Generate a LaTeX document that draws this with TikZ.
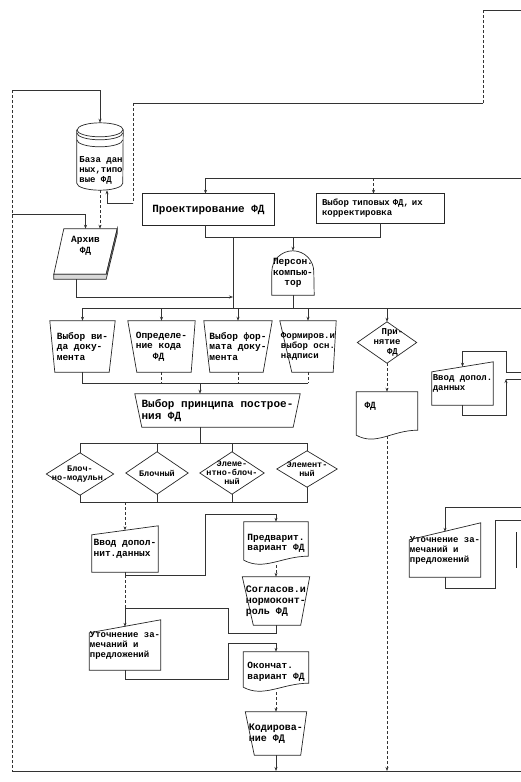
\documentclass[tikz,border=0pt]{standalone}
\usepackage{fontspec}
\newfontfamily\typer{Liberation Mono}
\usetikzlibrary{arrows.meta}

\begin{document}
\begin{tikzpicture}[
  x=1pt, y=1pt,
  outline/.style={draw=black!85, line width=0.7pt},
  wire/.style={draw=black!80, line width=0.6pt},
  dwire/.style={wire, densely dashed},
  >={Stealth[length=4pt, width=3pt]},
  box/.style 2 args={inner sep=0pt, minimum width=#1pt, minimum height=#2pt,
    align=left, font=\typer\bfseries\fontsize{9.5}{10.5}\selectfont},
  small/.style={font=\typer\bfseries\fontsize{9}{10}\selectfont},
  tiny/.style={font=\typer\bfseries\fontsize{8.5}{9}\selectfont},
  big/.style={font=\typer\bfseries\fontsize{11}{12}\selectfont}
]
  \useasboundingbox (0,0) rectangle (521,-782);

  % Database and archive.
  \node[box={46}{67}] (db) at (100,-156.5) {};
  \node[box={46}{30}, small] (dbtxt) at (101,-170) {База дан\\ных,типо\\вые ФД};
  \node[box={63}{50}, align=center] (arch) at (85.5,-254) {Архив\\ФД\\[8pt]};

  % Design stage.
  \node[box={131}{31}, big] (proj) at (208.5,-209.5) {Проектирование ФД};
  \node[box={127}{29}, small, text width=117pt] (sel) at (380.5,-208.5)
    {Выбор типовых ФД, их\\корректировка};
  \node[box={42}{44}, align=center] (pc) at (293,-273) {Персон.\\компью-\\тор};

  % Manual operations.
  \node[box={65}{51}] (t1) at (82.5,-346.5) {Выбор ви-\\да доку-\\мента};
  \node[box={67}{51}] (t2) at (161.5,-346.5) {Определе-\\ние кода\\\ \ \ ФД};
  \node[box={68}{51}] (t3) at (238,-346.5) {Выбор фор-\\мата доку-\\мента};
  \node[box={56}{51}, small] (t4) at (308,-346.5) {Формиров.и\\выбор осн.\\надписи};
  \node[box={165}{33}, big] (prin) at (217.5,-410.5)
    {Выбор принципа построе-\\ния ФД};

  % Construction principle.
  \node[box={67}{42}, tiny, align=center] (d1) at (80,-474) {Блоч-\\но-модульн.};
  \node[box={62}{42}, tiny, align=center] (d2) at (157,-473) {Блочный};
  \node[box={64}{42}, tiny, align=center] (d3) at (232,-473) {Элеме-\\нтно-блоч-\\ный};
  \node[box={60}{36}, tiny, align=center] (d4) at (307,-469) {Элемент-\\ный};

  % Main column.
  \node[box={66}{46}] (vvod1) at (125,-549) {Ввод допол-\\нит.данных};
  \node[box={64}{43}] (pre) at (276,-543.5) {Предварит.\\вариант ФД};
  \node[box={67}{48}, font=\typer\bfseries\fontsize{10}{11}\selectfont] (cons) at (276,-601)
    {Согласов.и\\нормоконт-\\роль ФД};
  \node[box={71}{50}, small] (utoch1) at (125,-645) {Уточнение за-\\мечаний и\\предложений};
  \node[box={65}{40}] (fin) at (276,-672) {Окончат.\\вариант ФД};
  \node[box={61}{43}, font=\typer\bfseries\fontsize{10}{11}\selectfont] (kod) at (276,-733.5)
    {Кодирова-\\ние ФД};

  % Right column.
  \node[box={59}{41}, small, align=center] (acc) at (387,-342.5) {\ \ При-\\нятие\\\ \ ФД};
  \node[box={61}{48}, text width=45pt, text depth=22pt] (fdoc) at (387,-416) {ФД};
  \node[box={61}{43}, small] (vvod2) at (462.5,-383.5) {Ввод допол.\\данных};
  \node[box={71}{54}, small] (utoch2) at (445,-550) {Уточнение за-\\мечаний и\\предложений};

  % Outlines.
  \draw[outline] ([yshift=-7pt]db.north west) -- ([yshift=7pt]db.south west)
    arc[start angle=180, end angle=360, x radius=23pt, y radius=7pt]
    -- ([yshift=-7pt]db.north east)
    arc[start angle=0, end angle=180, x radius=23pt, y radius=7pt];
  \draw[outline] ([yshift=-7pt]db.north west)
    arc[start angle=180, end angle=360, x radius=23pt, y radius=7pt];
  \draw[outline] ([yshift=-10pt]db.north west)
    arc[start angle=180, end angle=360, x radius=23pt, y radius=7pt];
  \draw[outline] ([yshift=-17pt]db.north west)
    arc[start angle=180, end angle=360, x radius=23pt, y radius=7pt];

  \draw[outline] ([xshift=10pt]arch.north west) -- (arch.north east)
    -- ([xshift=-11pt,yshift=5pt]arch.south east) -- ([yshift=5pt]arch.south west) -- cycle;
  \draw[outline, fill=black!15] ([yshift=5pt]arch.south west) -- (arch.south west)
    -- ([xshift=-11pt]arch.south east) -- ([yshift=-5pt]arch.north east)
    -- (arch.north east) -- ([xshift=-11pt,yshift=5pt]arch.south east) -- cycle;

  \draw[outline] (proj.south west) rectangle (proj.north east);
  \draw[outline] (sel.south west) rectangle (sel.north east);
  \draw[outline] (pc.south west) -- ([yshift=-21pt]pc.north west)
    arc[start angle=180, end angle=0, radius=21pt] -- (pc.south east) -- cycle;

  \draw[outline] (t1.north west) -- (t1.north east) -- ([xshift=-6pt]t1.south east)
    -- ([xshift=5pt]t1.south west) -- cycle;
  \draw[outline] (t2.north west) -- (t2.north east) -- ([xshift=-4pt]t2.south east)
    -- ([xshift=9pt]t2.south west) -- cycle;
  \draw[outline] (t3.north west) -- (t3.north east) -- ([xshift=-9pt]t3.south east)
    -- ([xshift=6pt]t3.south west) -- cycle;
  \draw[outline] (t4.north west) -- (t4.north east) -- ([xshift=-3pt]t4.south east)
    -- ([xshift=12pt]t4.south west) -- cycle;
  \draw[outline] (prin.north west) -- (prin.north east) -- ([xshift=-7pt]prin.south east)
    -- ([xshift=7pt]prin.south west) -- cycle;

  \draw[outline] (d1.north) -- (d1.east) -- (d1.south) -- (d1.west) -- cycle;
  \draw[outline] (d2.north) -- (d2.east) -- (d2.south) -- (d2.west) -- cycle;
  \draw[outline] (d3.north) -- (d3.east) -- (d3.south) -- (d3.west) -- cycle;
  \draw[outline] (d4.north) -- (d4.east) -- (d4.south) -- (d4.west) -- cycle;
  \draw[outline] (acc.north) -- (acc.east) -- (acc.south) -- (acc.west) -- cycle;

  \draw[outline] (vvod1.south west) -- ([yshift=-9pt]vvod1.north west)
    -- (vvod1.north east) -- (vvod1.south east) -- cycle;
  \draw[outline] (utoch1.south west) -- ([yshift=-13pt]utoch1.north west)
    -- (utoch1.north east) -- (utoch1.south east) -- cycle;
  \draw[outline] (vvod2.south west) -- ([yshift=-10pt]vvod2.north west)
    -- (vvod2.north east) -- (vvod2.south east) -- cycle;
  \draw[outline] (utoch2.south west) -- ([yshift=-17pt]utoch2.north west)
    -- (utoch2.north east) -- (utoch2.south east) -- cycle;

  \draw[outline] (pre.north west) -- (pre.north east) -- ([yshift=9pt]pre.south east)
    .. controls ([xshift=-26pt,yshift=9pt]pre.south east)
    and ([xshift=20pt,yshift=-6pt]pre.south west) .. ([yshift=5pt]pre.south west) -- cycle;
  \draw[outline] (fin.north west) -- (fin.north east) -- ([yshift=9pt]fin.south east)
    .. controls ([xshift=-26pt,yshift=9pt]fin.south east)
    and ([xshift=20pt,yshift=-6pt]fin.south west) .. ([yshift=5pt]fin.south west) -- cycle;
  \draw[outline] (fdoc.north west) -- (fdoc.north east) -- ([yshift=10pt]fdoc.south east)
    .. controls ([xshift=-26pt,yshift=10pt]fdoc.south east)
    and ([xshift=20pt,yshift=-6pt]fdoc.south west) .. ([yshift=5pt]fdoc.south west) -- cycle;

  \draw[outline] (cons.north west) -- (cons.north east) -- ([xshift=-9pt]cons.south east)
    -- ([xshift=11pt]cons.south west) -- cycle;
  \draw[outline] (kod.north west) -- (kod.north east) -- ([xshift=-6pt]kod.south east)
    -- ([xshift=9pt]kod.south west) -- cycle;

  % Cut-off box at the right edge.
  \draw[outline] (516,-532) -- (516,-568);

  % Junctions.
  \coordinate (tr) at (521,-10);
  \coordinate (tk) at (483,-10);
  \coordinate (tk2) at (483,-103);
  \coordinate (dbk) at (133,-103);
  \coordinate (dbk2) at (133,-203);
  \coordinate (lt) at (12,-90);
  \coordinate (la) at (12,-214);
  \coordinate (lb) at (12,-771);
  \coordinate (rb) at (521,-771);
  \coordinate (pb) at (521,-178);
  \coordinate (pj) at (293,-237);
  \coordinate (aj) at (233,-237);
  \coordinate (am) at (233,-297);
  \coordinate (bus) at (233,-308);
  \coordinate (busr) at (521,-308);
  \coordinate (mj) at (200,-383);
  \coordinate (pj2) at (200,-443);
  \coordinate (dj) at (125,-502);
  \coordinate (vj) at (205,-575);
  \coordinate (pk) at (205,-514);
  \coordinate (ck) at (228,-633);
  \coordinate (ck2) at (228,-608);
  \coordinate (uk) at (228,-679);
  \coordinate (uk2) at (228,-643);
  \coordinate (vr1) at (521,-372);
  \coordinate (vr2) at (506,-351);
  \coordinate (vr3) at (506,-415);
  \coordinate (vr4) at (506,-379);
  \coordinate (vr5) at (521,-379);
  \coordinate (ur1) at (521,-507);
  \coordinate (ur2) at (495,-588);
  \coordinate (ur3) at (495,-520);
  \coordinate (ur4) at (521,-520);

  % Frame lines.
  \draw[wire] (tr) -- (tk);
  \draw[dwire] (tk) -- (tk2);
  \draw[wire] (tk2) -- (dbk);
  \draw[dwire] (dbk) -- (dbk2);
  \draw[wire,->] (dbk2) -| ([xshift=7pt]db.south);
  \draw[dwire] (lt) -- (lb);
  \draw[wire] (lb) -- (rb);
  \draw[wire,->] (lt) -| (db.north);
  \draw[wire,->] (la) -| (arch.north);
  \draw[dwire,->] (db.south) -- (db.south |- arch.north);

  % Design stage.
  \draw[wire,->] (pb) -| ([xshift=-3pt]proj.north);
  \draw[dwire,->] ([xshift=-7pt]sel.north |- pb) -- ([xshift=-7pt]sel.north);
  \draw[wire] ([xshift=-3pt]proj.south) |- (pj);
  \draw[wire] (sel.south) |- (pj);
  \draw[wire,->] (pj) -- (pc.north);
  \draw[wire] (aj) -- (bus);
  \draw[wire,->] ([xshift=-9pt]arch.south) |- (am);
  \draw[wire] (pc.south) -- (pc.south |- bus);

  % Manual operations.
  \draw[wire] (t1.north |- bus) -- (busr);
  \draw[wire,->] (t1.north |- bus) -- (t1.north);
  \draw[wire,->] (t2.north |- bus) -- (t2.north);
  \draw[wire,->] (t3.north |- bus) -- (t3.north);
  \draw[wire,->] (t4.north |- bus) -- (t4.north);
  \draw[wire,->] (acc.north |- bus) -- (acc.north);
  \draw[wire] (t1.south) -- (t1.south |- mj) -- (t4.south |- mj);
  \draw[dwire] (t2.south) -- (t2.south |- mj);
  \draw[dwire] (t3.south) -- (t3.south |- mj);
  \draw[dwire] (t4.south) -- (t4.south |- mj);
  \draw[wire,->] (mj) -- (mj |- prin.north);

  % Construction principle.
  \draw[wire] (prin.south -| pj2) -- (pj2);
  \draw[wire] (d1.north |- pj2) -- (d4.north |- pj2);
  \draw[wire] (d1.north |- pj2) -- (d1.north);
  \draw[wire] (d2.north |- pj2) -- (d2.north);
  \draw[wire] (d3.north |- pj2) -- (d3.north);
  \draw[wire] (d4.north |- pj2) -- (d4.north);
  \draw[wire] (d1.south) -- (d1.south |- dj) -- (d4.south |- dj) -- (d4.south);
  \draw[wire] (d2.south) -- (d2.south |- dj);
  \draw[wire] (d3.south) -- (d3.south |- dj);
  \draw[dwire,->] (dj) -- ([yshift=-4.5pt]vvod1.north);

  % Main column.
  \draw[wire,->] (vvod1.south) |- (vj) -- (pk) -| (pre.north);
  \draw[dwire] (vvod1.south |- vj) -- (vvod1.south |- ck2);
  \draw[dwire,->] (pre.south) -- (cons.north);
  \draw[wire,->] (cons.south) |- (ck) -- (ck2) -| ([yshift=-7pt]utoch1.north);
  \draw[wire,->] (utoch1.south) |- (uk) -- (uk2) -| (fin.north);
  \draw[dwire,->] (fin.south) -- (kod.north);
  \draw[wire,->] (kod.south) -- (kod.south |- lb);

  % Right column.
  \draw[dwire,->] (acc.south) -- (fdoc.north);
  \draw[dwire,->] ([yshift=4pt]fdoc.south) -- (fdoc.south |- lb);
  \draw[wire,->] (vr1) -| (vr2) -| ([yshift=-5pt]vvod2.north);
  \draw[wire,->] (vvod2.south) |- (vr3) -- (vr4);
  \draw[wire] (vr4) -- (vr5);
  \draw[wire,->] (ur1) -| ([yshift=-9pt]utoch2.north);
  \draw[wire] (utoch2.south) |- (ur2) -- (ur3) -- (ur4);
\end{tikzpicture}
\end{document}
